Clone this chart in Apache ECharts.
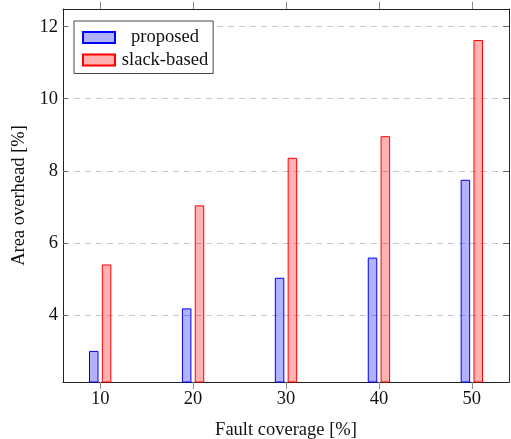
<!DOCTYPE html>
<html>
<head>
<meta charset="utf-8">
<script src="https://cdn.jsdelivr.net/npm/echarts@6/dist/echarts.min.js"></script>
<style>html,body{margin:0;padding:0;background:#fff}#c{width:511px;height:439px}</style>
</head>
<body>
<div id="c"></div>
<script>
const coverage = [10, 20, 30, 40, 50];
const proposed = [3.0, 4.18, 5.03, 5.59, 7.75];
const slackBased = [5.4, 7.04, 8.36, 8.96, 11.63];
const yTicks = [4, 6, 8, 10, 12];
const seriesNames = ['proposed', 'slack-based'];

const FONT = 'Liberation Serif';
const FS = 18.5;
const chart = echarts.init(document.getElementById('c'), null, {renderer: 'canvas'});

const xMin = 6, xMax = 54, yMin = 2.137, yMax = 12.49;

const xBase = {
  type: 'value', min: xMin, max: xMax,
  axisLine: {show: true, onZero: false, lineStyle: {color: '#222', width: 1}},
  splitLine: {show: false}
};
const yBase = {
  type: 'value', min: yMin, max: yMax,
  axisLine: {show: true, onZero: false, lineStyle: {color: '#222', width: 1}}
};

chart.setOption({
  animation: false,
  textStyle: {fontFamily: FONT},
  grid: {left: 63, right: 2, top: 9, bottom: 57, containLabel: false, outerBoundsMode: 'none'},
  legend: {
    left: 74, top: 21,
    orient: 'vertical',
    data: seriesNames,
    itemWidth: 32, itemHeight: 11, itemGap: 3.5,
    padding: [7, 5, 4, 8],
    backgroundColor: '#fff',
    borderColor: '#444', borderWidth: 1, borderRadius: 0,
    icon: 'rect',
    formatter: '{t|{name}}',
    textStyle: {
      fontFamily: FONT, fontSize: FS, color: '#111',
      rich: {t: {width: 90, align: 'center', fontFamily: FONT, fontSize: FS, color: '#111'}}
    }
  },
  xAxis: [
    Object.assign({}, xBase, {
      position: 'bottom',
      name: 'Fault coverage [%]', nameLocation: 'middle', nameGap: 39,
      nameTextStyle: {fontFamily: FONT, fontSize: FS, color: '#111'},
      axisTick: {show: true, inside: false, length: 7, customValues: coverage, lineStyle: {color: '#888'}},
      axisLabel: {show: true, customValues: coverage, fontFamily: FONT, fontSize: FS, color: '#111', margin: 8}
    }),
    Object.assign({}, xBase, {
      position: 'top',
      axisTick: {show: true, inside: false, length: 7, customValues: coverage, lineStyle: {color: '#888'}},
      axisLabel: {show: false}
    })
  ],
  yAxis: [
    Object.assign({}, yBase, {
      position: 'left',
      name: 'Area overhead [%]', nameLocation: 'middle', nameGap: 34, nameRotate: 90,
      nameTextStyle: {fontFamily: FONT, fontSize: FS, color: '#111'},
      axisTick: {show: true, inside: true, length: 5, customValues: yTicks, lineStyle: {color: '#666'}},
      axisLabel: {show: true, customValues: yTicks, fontFamily: FONT, fontSize: FS, color: '#111', margin: 5},
      splitLine: {show: true, lineStyle: {color: '#c8c8c8', width: 1, type: [6, 5]}}
    }),
    Object.assign({}, yBase, {
      position: 'right',
      axisTick: {show: true, inside: true, length: 6, customValues: yTicks, lineStyle: {color: '#666'}},
      axisLabel: {show: false},
      splitLine: {show: false}
    })
  ],
  series: [
    {
      name: seriesNames[0], type: 'bar', xAxisIndex: 0, yAxisIndex: 0,
      barWidth: 9.5, barGap: '35%',
      data: coverage.map((x, i) => [x, proposed[i]]),
      itemStyle: {color: 'rgba(0,0,255,0.3)', borderColor: '#0000ff', borderWidth: 1}
    },
    {
      name: seriesNames[1], type: 'bar', xAxisIndex: 0, yAxisIndex: 0,
      barWidth: 9.5, barGap: '35%',
      data: coverage.map((x, i) => [x, slackBased[i]]),
      itemStyle: {color: 'rgba(255,0,0,0.3)', borderColor: '#ff0000', borderWidth: 1}
    }
  ]
});
</script>
</body>
</html>
